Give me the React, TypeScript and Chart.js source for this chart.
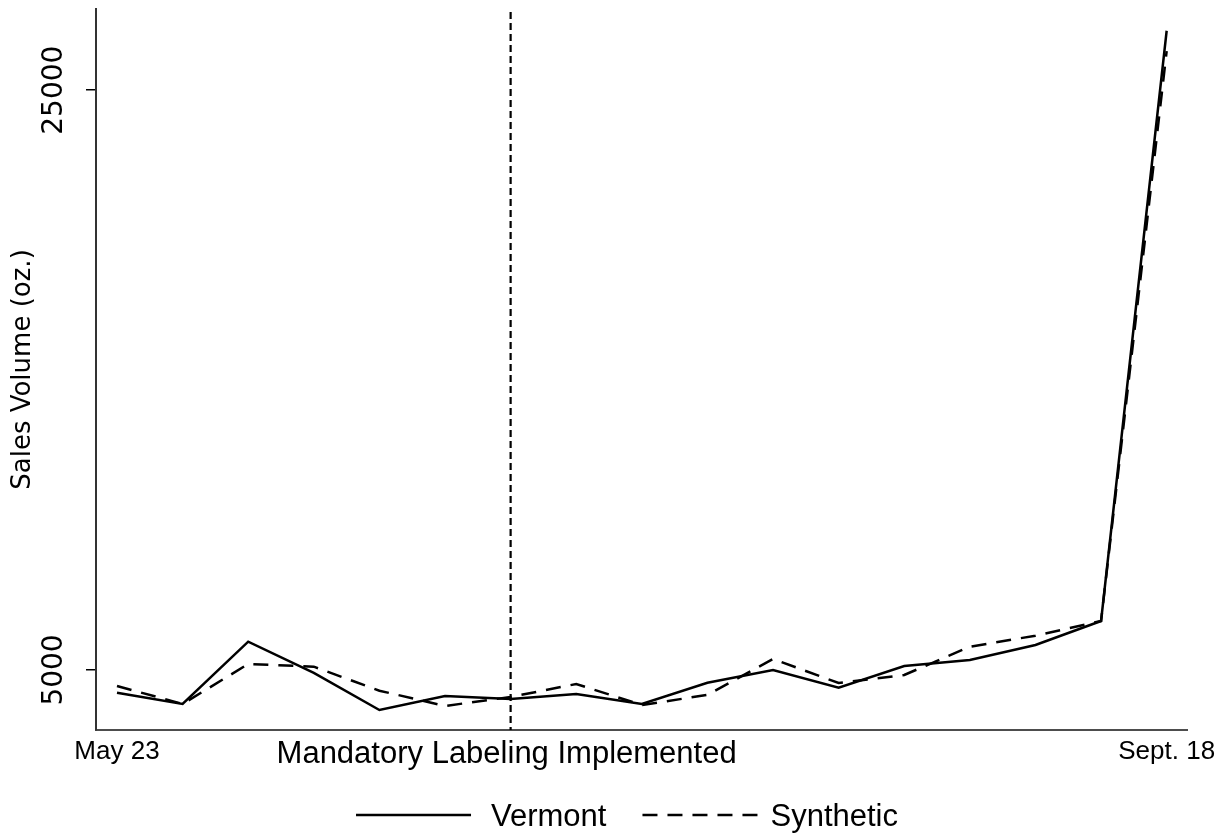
import React, { useEffect, useRef } from "react";
import { Chart, registerables } from "chart.js";

Chart.register(...registerables);

// ---- data ----
const weekIndex = [0, 1, 2, 3, 4, 5, 6, 7, 8, 9, 10, 11, 12, 13, 14, 15, 16];
const vermont = [4217, 3828, 5976, 4900, 3621, 4103, 4000, 4172, 3828, 4562, 5000, 4390, 5138, 5345, 5862, 6690, 27050];
const synthetic = [4448, 3828, 5207, 5114, 4286, 3759, 4069, 4517, 3793, 4140, 5379, 4552, 4828, 5803, 6183, 6690, 26350];
const xTickWeeks = [0, 16];
const xTickLabels = ["May 23", "Sept. 18"];
const yTickValues = [5000, 25000];
const policyWeek = 6;
const policyLabel = "Mandatory Labeling Implemented";
const seriesNames = ["Vermont", "Synthetic"];
const yTitle = "Sales Volume (oz.)";

const annotate = {
  id: "annotate",
  beforeDatasetsDraw(chart: any) {
    const { ctx, chartArea } = chart;
    const x = chart.scales.x.getPixelForValue(policyWeek);
    ctx.save();
    ctx.strokeStyle = "#000";
    ctx.lineWidth = 2.2;
    ctx.setLineDash([7, 4]);
    ctx.beginPath();
    ctx.moveTo(x, chartArea.top + 3);
    ctx.lineTo(x, chartArea.bottom);
    ctx.stroke();
    ctx.restore();
  },
  afterDraw(chart: any) {
    const { ctx } = chart;
    const x = chart.scales.x.getPixelForValue(policyWeek);
    ctx.save();
    ctx.fillStyle = "#000";
    ctx.font = '31px "Liberation Sans", Arial, sans-serif';
    ctx.textAlign = "center";
    ctx.textBaseline = "alphabetic";
    ctx.fillText(policyLabel, x - 4, 763);

    // legend
    ctx.font = '31px "Liberation Sans", Arial, sans-serif';
    ctx.textAlign = "left";
    const lineLen = 115;
    const w1 = ctx.measureText(seriesNames[0]).width;
    const w2 = ctx.measureText(seriesNames[1]).width;
    const total = lineLen + 20 + w1 + 36 + lineLen + 13 + w2;
    let lx = 627 - total / 2;
    const ly = 815;
    ctx.strokeStyle = "#000";
    ctx.lineWidth = 2.5;
    ctx.setLineDash([]);
    ctx.beginPath();
    ctx.moveTo(lx, ly);
    ctx.lineTo(lx + lineLen, ly);
    ctx.stroke();
    lx += lineLen + 20;
    ctx.fillText(seriesNames[0], lx, 826);
    lx += w1 + 36;
    ctx.setLineDash([15, 10]);
    ctx.beginPath();
    ctx.moveTo(lx, ly);
    ctx.lineTo(lx + lineLen, ly);
    ctx.stroke();
    ctx.setLineDash([]);
    lx += lineLen + 13;
    ctx.fillText(seriesNames[1], lx, 826);
    ctx.restore();
  },
};

export default function App() {
  const canvasRef = useRef<HTMLCanvasElement | null>(null);

  useEffect(() => {
    document.body.style.margin = "0";
    const canvas = canvasRef.current;
    if (!canvas) return;
    const chart = new Chart(canvas, {
      type: "line",
      data: {
        datasets: [
          {
            label: seriesNames[0],
            data: weekIndex.map((w, i) => ({ x: w, y: vermont[i] })),
            borderColor: "#000",
            borderWidth: 2.5,
            pointRadius: 0,
            tension: 0,
            fill: false,
          },
          {
            label: seriesNames[1],
            data: weekIndex.map((w, i) => ({ x: w, y: synthetic[i] })),
            borderColor: "#000",
            borderWidth: 2.5,
            borderDash: [15, 10],
            pointRadius: 0,
            tension: 0,
            fill: false,
          },
        ],
      },
      options: {
        animation: false,
        responsive: false,
        layout: { padding: { left: 8, right: 43, top: 9, bottom: 69 } },
        plugins: {
          legend: { display: false },
          tooltip: { enabled: false },
        },
        scales: {
          x: {
            type: "linear",
            min: -0.32,
            max: 16.31,
            grid: { display: false, drawTicks: false },
            border: { display: true, color: "#4d4d4d", width: 2 },
            afterBuildTicks: (s: any) => {
              s.ticks = xTickWeeks.map((v) => ({ value: v }));
            },
            ticks: {
              autoSkip: false,
              maxRotation: 0,
              minRotation: 0,
              padding: 6,
              color: "#000",
              font: { family: '"Liberation Sans", Arial, sans-serif', size: 26 },
              callback: (v: any) => {
                const i = xTickWeeks.indexOf(Number(v));
                return i >= 0 ? xTickLabels[i] : "";
              },
            },
            afterFit: (s: any) => {
              s.height = 40;
            },
          },
          y: {
            type: "linear",
            min: 2930,
            max: 27800,
            grid: {
              display: true,
              drawOnChartArea: false,
              drawTicks: true,
              tickLength: 10,
              color: "#000",
              lineWidth: 1.5,
            },
            border: { display: true, color: "#333", width: 2 },
            afterBuildTicks: (s: any) => {
              s.ticks = yTickValues.map((v) => ({ value: v }));
            },
            ticks: {
              minRotation: 90,
              maxRotation: 90,
              crossAlign: "center",
              padding: -13.5,
              color: "#000",
              font: { family: '"DejaVu Sans", sans-serif', size: 28 },
              callback: (v: any) => String(v),
            },
            title: {
              display: true,
              text: yTitle,
              color: "#000",
              padding: 0,
              font: { family: '"DejaVu Sans", sans-serif', size: 26 },
            },
            afterFit: (s: any) => {
              s.width = 88;
            },
          },
        },
      } as any,
      plugins: [annotate],
    });
    return () => chart.destroy();
  }, []);

  return (
    <div style={{ width: 1230, height: 839, background: "#fff" }}>
      <canvas ref={canvasRef} width={1230} height={839} style={{ display: "block" }} />
    </div>
  );
}
